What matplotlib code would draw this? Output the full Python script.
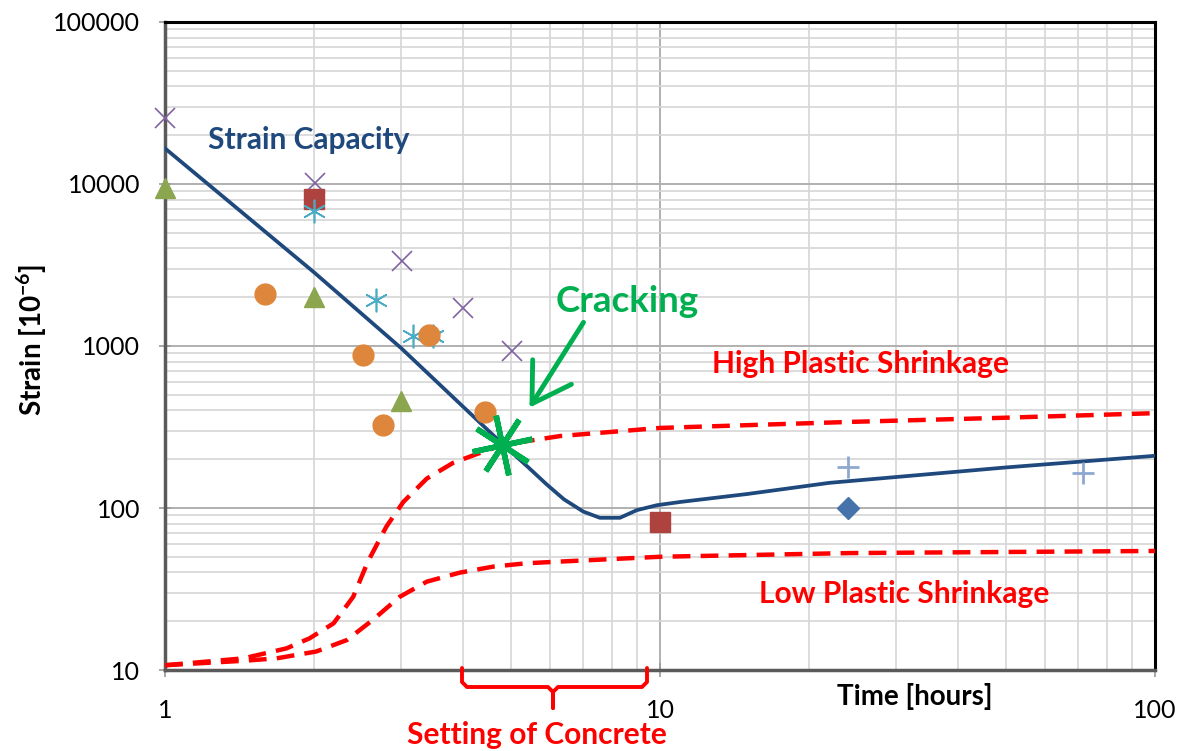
import matplotlib
matplotlib.use("Agg")
import matplotlib.pyplot as plt
from matplotlib.lines import Line2D
from matplotlib.patches import FancyArrowPatch

plt.rcParams["font.family"] = ["Lato", "DejaVu Sans"]
plt.rcParams["mathtext.default"] = "regular"

# strain capacity curve (hours, microstrain)
cap_t = [1, 2, 3, 4.83, 5.4, 5.9, 6.4, 7.0, 7.56, 8.3, 8.98, 9.85, 11, 15, 22, 50, 100]
cap_s = [16600, 2850, 970, 245, 180, 140, 113, 95, 87, 87, 97, 104, 109, 122, 143, 178, 210]

# plastic shrinkage curves
high_t = [1, 1.44, 1.76, 1.96, 2.19, 2.40, 2.57, 2.80, 3.03, 3.38, 3.82, 4.26, 4.8, 6.28, 10, 24.2, 48.6, 100]
high_s = [10.7, 11.8, 13.6, 15.7, 19.4, 28.3, 46.7, 76.7, 109, 152, 190, 215, 245, 278, 312, 340, 360, 385]
low_t = [1, 1.44, 1.68, 2.02, 2.33, 2.63, 2.98, 3.38, 3.94, 4.61, 5.38, 6.28, 10, 24.2, 100]
low_s = [10.7, 11.4, 11.8, 13.0, 15.3, 20.4, 28.3, 35.1, 39.9, 43.5, 45.6, 46.7, 50, 52.7, 54.3]

# measured points
x_t = [1, 2.01, 3.01, 4.0, 5.02]
x_s = [25500, 10150, 3350, 1720, 930]
tri_t = [1, 2, 3]
tri_s = [9440, 2000, 457]
sq_t = [2, 10]
sq_s = [8070, 82]
ast_t = [2, 2.67, 3.17, 3.48]
ast_s = [6800, 1920, 1150, 1150]
circ_t = [1.59, 2.51, 2.76, 3.42, 4.43]
circ_s = [2090, 880, 325, 1170, 392]
dia_t = [24]
dia_s = [100]
plus_t = [24, 71.6]
plus_s = [180, 165]
crack_t = [4.8]
crack_s = [245]

W, H = 1185, 751


def px(x, y):
    return x / W, 1 - y / H


fig = plt.figure(figsize=(W / 100, H / 100), dpi=100)
ax = fig.add_axes([165 / W, 1 - 670 / H, 990 / W, 648 / H])
ax.set_xscale("log")
ax.set_yscale("log")
ax.set_xlim(1, 100)
ax.set_ylim(10, 100000)

ax.grid(True, which="minor", color="#d6d6d6", linewidth=1.2)
ax.grid(True, which="major", color="#b0b0b0", linewidth=1.4)
ax.set_axisbelow(True)

for side in ("top", "right"):
    ax.spines[side].set_color("black")
    ax.spines[side].set_linewidth(2.2)
for side in ("left", "bottom"):
    ax.spines[side].set_color("#5a5a5a")
    ax.spines[side].set_linewidth(2.5)

ax.set_xticks([1, 10, 100])
ax.set_xticklabels(["1", "10", "100"])
ax.set_yticks([10, 100, 1000, 10000, 100000])
ax.set_yticklabels(["10", "100", "1000", "10000", "100000"])
ax.tick_params(which="minor", length=0)
ax.tick_params(axis="x", which="major", length=10, width=1.2, color="#9a9a9a",
               direction="inout", pad=16, labelsize=18)
ax.tick_params(axis="y", which="major", length=8, width=1.2, color="#9a9a9a",
               direction="inout", pad=14, labelsize=18)

# curves
ax.plot(high_t, high_s, color="#ff0000", linewidth=3.2, dashes=(4, 2.3), zorder=3)
ax.plot(low_t, low_s, color="#ff0000", linewidth=3.2, dashes=(4, 2.3), zorder=3)
ax.plot(cap_t, cap_s, color="#1f497d", linewidth=2.7, zorder=4,
        solid_joinstyle="round")

# measured points
ax.plot(x_t, x_s, "x", color="#8064a2", markersize=15, markeredgewidth=1.2,
        zorder=5, clip_on=False)
ax.plot(tri_t, tri_s, "^", color="#8ba64e", markersize=15, zorder=5, clip_on=False)
ax.plot(sq_t, sq_s, "s", color="#ad423f", markersize=15, zorder=5)
ax.plot(ast_t, ast_s, linestyle="none", marker=(6, 2, 0), color="#4bacc6",
        markersize=17, markeredgewidth=1.2, zorder=5)
ax.plot(circ_t, circ_s, "o", color="#de863b", markersize=15, zorder=5)
ax.plot(dia_t, dia_s, "D", color="#4674aa", markersize=11, zorder=5)
ax.plot(plus_t, plus_s, "+", color="#8ea8d2", markersize=16, markeredgewidth=2,
        zorder=5)
ax.plot(crack_t, crack_s, linestyle="none", marker=(8, 2, 12), color="#00b050",
        markersize=44, markeredgewidth=4, zorder=6)

# annotations
fig.text(*px(309, 140), "Strain Capacity", color="#1f497d", fontsize=21.5,
         fontweight="bold", ha="center", va="center")
fig.text(*px(627, 301), "Cracking", color="#00b050", fontsize=26.5,
         fontweight="bold", ha="center", va="center")
fig.text(*px(861, 364), "High Plastic Shrinkage", color="#ff0000", fontsize=21.5,
         fontweight="bold", ha="center", va="center")
fig.text(*px(904, 594), "Low Plastic Shrinkage", color="#ff0000", fontsize=21.5,
         fontweight="bold", ha="center", va="center")
fig.text(*px(537, 735), "Setting of Concrete", color="#ff0000", fontsize=21.5,
         fontweight="bold", ha="center", va="center")
fig.text(*px(915, 697), "Time [hours]", color="black", fontsize=20,
         fontweight="bold", ha="center", va="center")
fig.text(*px(32, 340), "Strain [10$^{-6}$]", color="black", fontsize=20,
         fontweight="bold", ha="center", va="center", rotation=90)

fig.add_artist(FancyArrowPatch(
    px(585, 320), px(528, 410), transform=fig.transFigure,
    arrowstyle="->,head_length=0.9,head_width=0.55", mutation_scale=30,
    color="#00b050", linewidth=3.5, zorder=7))

# bracket for setting of concrete
bx = [462, 462, 467, 548, 553, 553, 553, 558, 642, 647, 647]
by = [668, 682, 687, 687, 692, 708, 692, 687, 687, 682, 668]
fig.add_artist(Line2D([x / W for x in bx], [1 - y / H for y in by],
                      color="#ff0000", linewidth=2.8, solid_joinstyle="round",
                      solid_capstyle="round"))

fig.savefig("out.png", dpi=100)
